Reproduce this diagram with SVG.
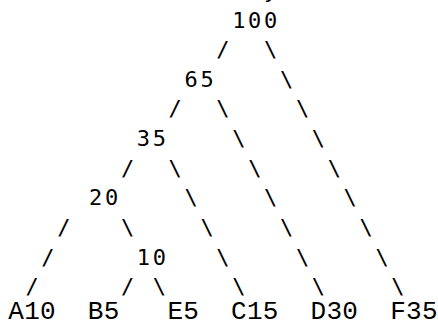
<svg xmlns="http://www.w3.org/2000/svg" width="438" height="326" viewBox="0 0 438 326">
<style>
.n{font-family:"DejaVu Sans Mono",monospace;font-size:22px;letter-spacing:2.67px;fill:#000}
.lf{font-family:"Liberation Mono","DejaVu Sans Mono",monospace;font-size:26px;letter-spacing:0.3px;fill:#000}
.c{font-family:"DejaVu Sans Mono",monospace;font-size:22px;fill:#000;text-anchor:middle}
</style>
<rect width="438" height="326" fill="#fff"/>
<text class="c" x="270.7" y="-2.2">y</text>
<g id="connectors">
<text class="c" x="222.9" y="57.15">/</text>
<text class="c" x="270.7" y="57.15">\</text>
<text class="c" x="286.6" y="86.8">\</text>
<text class="c" x="175.2" y="116.45">/</text>
<text class="c" x="222.9" y="116.45">\</text>
<text class="c" x="302.5" y="116.45">\</text>
<text class="c" x="238.8" y="146.1">\</text>
<text class="c" x="318.4" y="146.1">\</text>
<text class="c" x="127.5" y="175.75">/</text>
<text class="c" x="175.2" y="175.75">\</text>
<text class="c" x="254.8" y="175.75">\</text>
<text class="c" x="334.3" y="175.75">\</text>
<text class="c" x="191.1" y="205.4">\</text>
<text class="c" x="270.7" y="205.4">\</text>
<text class="c" x="350.2" y="205.4">\</text>
<text class="c" x="63.8" y="235.05">/</text>
<text class="c" x="127.5" y="235.05">\</text>
<text class="c" x="207.0" y="235.05">\</text>
<text class="c" x="286.6" y="235.05">\</text>
<text class="c" x="366.1" y="235.05">\</text>
<text class="c" x="47.9" y="264.7">/</text>
<text class="c" x="222.9" y="264.7">\</text>
<text class="c" x="302.5" y="264.7">\</text>
<text class="c" x="382.0" y="264.7">\</text>
<text class="c" x="32.0" y="294.35">/</text>
<text class="c" x="127.5" y="294.35">/</text>
<text class="c" x="159.3" y="294.35">\</text>
<text class="c" x="238.8" y="294.35">\</text>
<text class="c" x="318.4" y="294.35">\</text>
<text class="c" x="397.9" y="294.35">\</text>
</g>
<g id="n100"><text class="n" x="232.2" y="27.5">100</text></g>
<g id="n65"><text class="n" x="184.5" y="86.8">65</text></g>
<g id="n35"><text class="n" x="136.8" y="146.1">35</text></g>
<g id="n20"><text class="n" x="89.05" y="205.4">20</text></g>
<g id="n10"><text class="n" x="136.8" y="264.7">10</text></g>
<g id="A10"><text class="lf" x="8.3" y="319">A10</text></g>
<g id="B5"><text class="lf" x="87.85" y="319">B5</text></g>
<g id="E5"><text class="lf" x="167.4" y="319">E5</text></g>
<g id="C15"><text class="lf" x="231.05" y="319">C15</text></g>
<g id="D30"><text class="lf" x="310.55" y="319">D30</text></g>
<g id="F35"><text class="lf" x="390.15" y="319">F35</text></g>
</svg>
